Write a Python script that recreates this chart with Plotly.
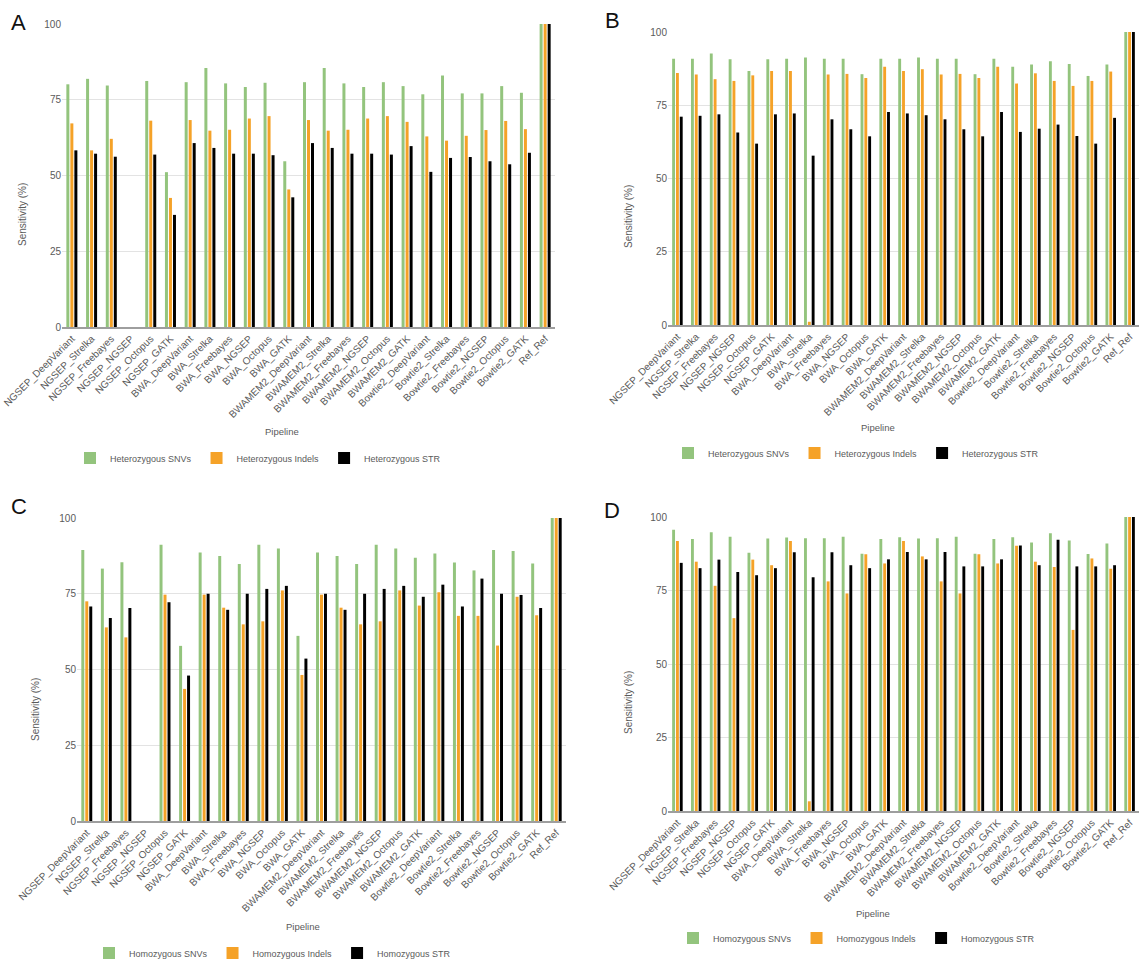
import plotly.graph_objects as go

pipelines = [
    "NGSEP_DeepVariant", "NGSEP_Strelka", "NGSEP_Freebayes", "NGSEP_NGSEP", "NGSEP_Octopus", "NGSEP_GATK",
    "BWA_DeepVariant", "BWA_Strelka", "BWA_Freebayes", "BWA_NGSEP", "BWA_Octopus", "BWA_GATK",
    "BWAMEM2_DeepVariant", "BWAMEM2_Strelka", "BWAMEM2_Freebayes", "BWAMEM2_NGSEP", "BWAMEM2_Octopus", "BWAMEM2_GATK",
    "Bowtie2_DeepVariant", "Bowtie2_Strelka", "Bowtie2_Freebayes", "Bowtie2_NGSEP", "Bowtie2_Octopus", "Bowtie2_GATK",
    "Ref_Ref",
]

# Panel A - heterozygous
a_snv = [80.1, 81.9, 79.7, 0, 81.2, 51.1, 80.8, 85.5, 80.4, 79.2, 80.6, 54.7,
         80.8, 85.5, 80.4, 79.2, 80.8, 79.5, 76.8, 83.0, 77.1, 77.1, 79.5, 77.3, 100]
a_indel = [67.2, 58.3, 62.1, 0, 68.1, 42.6, 68.3, 64.8, 65.1, 68.8, 69.6, 45.4,
           68.3, 64.8, 65.1, 68.8, 69.6, 67.7, 62.9, 61.5, 63.1, 65.0, 68.0, 65.3, 100]
a_str = [58.3, 57.2, 56.2, 0, 56.9, 37.0, 60.7, 59.1, 57.2, 57.2, 56.7, 42.8,
         60.7, 59.1, 57.2, 57.2, 56.9, 59.7, 51.2, 55.8, 56.1, 54.7, 53.7, 57.5, 100]

# Panel B - heterozygous
b_snv = [90.9, 90.9, 92.7, 90.7, 86.7, 90.7, 90.9, 91.3, 90.9, 90.9, 85.6, 90.9,
         90.9, 91.3, 90.9, 90.9, 85.6, 90.9, 88.1, 88.9, 90.0, 89.1, 85.0, 88.9, 100]
b_indel = [86.0, 85.5, 83.9, 83.3, 85.2, 86.7, 86.7, 1.1, 85.5, 85.7, 84.3, 88.1,
           86.7, 87.3, 85.5, 85.7, 84.3, 88.1, 82.4, 85.9, 83.3, 81.6, 83.3, 86.5, 100]
b_str = [71.1, 71.4, 71.9, 65.7, 61.9, 71.9, 72.2, 57.8, 70.2, 66.8, 64.4, 72.7,
         72.2, 71.6, 70.2, 66.8, 64.4, 72.7, 65.9, 67.0, 68.4, 64.5, 61.9, 70.7, 100]

# Panel C - homozygous
c_snv = [89.4, 83.3, 85.4, 0, 91.2, 57.8, 88.6, 87.5, 84.8, 91.2, 89.9, 61.1,
         88.6, 87.5, 84.8, 91.2, 89.9, 86.9, 88.3, 85.3, 82.7, 89.4, 89.1, 85.0, 100]
c_indel = [72.5, 63.9, 60.6, 0, 74.7, 43.6, 74.7, 70.4, 64.9, 65.9, 76.1, 48.2,
           74.7, 70.4, 64.9, 65.9, 76.1, 71.1, 75.5, 67.7, 67.7, 57.9, 74.0, 67.9, 100]
c_str = [70.8, 67.0, 70.3, 0, 72.2, 48.0, 75.0, 69.7, 75.0, 76.6, 77.6, 53.6,
         75.0, 69.7, 75.0, 76.6, 77.6, 74.0, 78.0, 70.8, 80.0, 75.0, 74.6, 70.3, 100]

# Panel D - homozygous
d_snv = [95.7, 92.5, 94.8, 93.3, 87.8, 92.7, 93.0, 92.8, 92.8, 93.3, 87.5, 92.5,
         93.1, 92.7, 92.8, 93.3, 87.5, 92.5, 93.1, 91.3, 94.5, 92.0, 87.4, 91.0, 100]
d_indel = [91.8, 84.8, 76.6, 65.6, 85.5, 83.6, 91.8, 3.3, 78.1, 74.0, 87.3, 84.2,
           91.8, 86.6, 78.1, 74.0, 87.3, 84.2, 90.2, 84.8, 83.0, 61.6, 85.9, 82.4, 100]
d_str = [84.4, 82.6, 85.5, 81.3, 80.2, 82.6, 88.0, 79.5, 88.0, 83.6, 82.6, 85.6,
         88.1, 85.6, 88.1, 83.2, 83.2, 85.6, 90.3, 83.6, 92.3, 83.2, 83.2, 83.6, 100]

het_names = ["Heterozygous SNVs", "Heterozygous Indels", "Heterozygous STR"]
hom_names = ["Homozygous SNVs", "Homozygous Indels", "Homozygous STR"]
colors = ["#93c47d", "#f5a228", "#000000"]

W, H = 1140, 960
FONT = "Liberation Sans, Arial, sans-serif"
TXT = "#5a5a5a"


def dx(a, b):
    return [a / W, b / W]


def dy(top, bottom):
    return [1 - bottom / H, 1 - top / H]


panels = [
    # (letter, series, names, xdomain, ydomain, legend left x, legend y,
    #  pipeline xy, ytitle xy, letter xy)
    ("A", [a_snv, a_indel, a_str], het_names, (62, 555), (24, 327), 70, 458, (282, 432), (22, 215), (18, 22)),
    ("B", [b_snv, b_indel, b_str], het_names, (668, 1139), (32, 325), 668, 453, (878, 427), (628, 217), (612, 21)),
    ("C", [c_snv, c_indel, c_str], hom_names, (77, 566), (518, 821), 89, 953, (303, 926), (35, 710), (19, 507)),
    ("D", [d_snv, d_indel, d_str], hom_names, (668, 1139), (517, 811), 673, 938, (873, 913), (628, 703), (612, 510)),
]

fig = go.Figure()
annotations = []
layout = {}

for i, (letter, series, names, xd, yd, lx, ly, pxy, yxy, lxy) in enumerate(panels):
    n = i + 1
    xa = "x" if n == 1 else f"x{n}"
    ya = "y" if n == 1 else f"y{n}"
    leg = "legend" if n == 1 else f"legend{n}"
    for vals, name, col in zip(series, names, colors):
        fig.add_trace(go.Bar(
            x=pipelines, y=vals, name=name, marker=dict(color=col, line=dict(width=0)),
            xaxis=xa, yaxis=ya, legend=leg, offsetgroup=name,
        ))
    xkey = "xaxis" if n == 1 else f"xaxis{n}"
    ykey = "yaxis" if n == 1 else f"yaxis{n}"
    layout[xkey] = dict(
        domain=dx(*xd), anchor=ya, type="category", tickangle=-45, automargin=False,
        tickfont=dict(family=FONT, size=10, color=TXT),
        showline=True, linecolor="#9e9e9e", linewidth=2, ticks="", showgrid=False,
    )
    layout[ykey] = dict(
        domain=dy(*yd), anchor=xa, range=[0, 100], tickvals=[0, 25, 50, 75, 100], automargin=False,
        tickfont=dict(family=FONT, size=10, color=TXT),
        showgrid=True, gridcolor="#e3e3e3", gridwidth=1, zeroline=False, showline=False, ticks="",
    )
    layout[leg] = dict(
        orientation="h", x=lx / W, y=1 - ly / H, xanchor="left", yanchor="middle",
        font=dict(family=FONT, size=9, color=TXT), bgcolor="rgba(0,0,0,0)",
        itemwidth=30, traceorder="normal",
    )
    annotations.append(dict(text="Pipeline", x=pxy[0] / W, y=1 - pxy[1] / H, xref="paper", yref="paper",
                            showarrow=False, xanchor="center", yanchor="middle",
                            font=dict(family=FONT, size=9.5, color=TXT)))
    annotations.append(dict(text="Sensitivity (%)", x=yxy[0] / W, y=1 - yxy[1] / H, xref="paper", yref="paper",
                            showarrow=False, xanchor="center", yanchor="middle", textangle=-90,
                            font=dict(family=FONT, size=10, color=TXT)))
    annotations.append(dict(text=letter, x=lxy[0] / W, y=1 - lxy[1] / H, xref="paper", yref="paper",
                            showarrow=False, xanchor="center", yanchor="middle",
                            font=dict(family=FONT, size=22, color="#111111")))

fig.update_layout(
    width=W, height=H, margin=dict(l=0, r=0, t=0, b=0, pad=0, autoexpand=False),
    plot_bgcolor="white", paper_bgcolor="white",
    barmode="group", bargap=0.39, bargroupgap=0.25,
    annotations=annotations, showlegend=True,
    **layout,
)

fig.write_html("out.html", config={"displayModeBar": False},
               post_script="document.body.style.margin='0';")
